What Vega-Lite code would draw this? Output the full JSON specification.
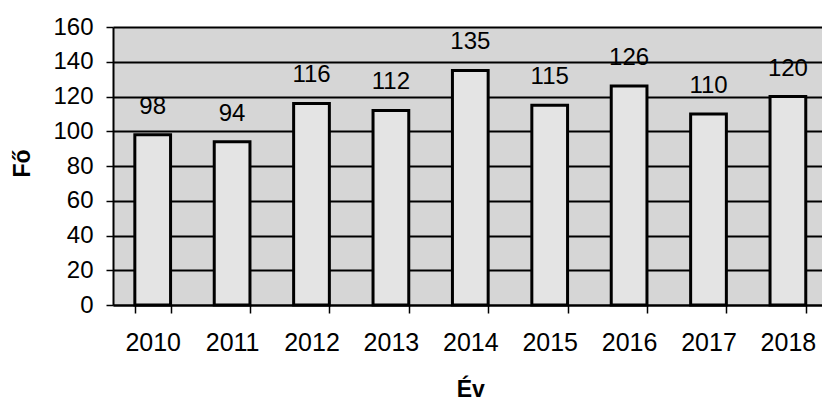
{
  "$schema": "https://vega.github.io/schema/vega-lite/v6.json",
  "autosize": "none",
  "width": 709,
  "height": 278,
  "padding": {"left": 113, "top": 27, "right": 0, "bottom": 96},
  "background": "white",
  "config": {
    "view": {"fill": "#d6d6d6", "stroke": null},
    "font": "Liberation Sans"
  },
  "data": {
    "values": [
      {"ev": "2010", "fo": 98},
      {"ev": "2011", "fo": 94},
      {"ev": "2012", "fo": 116},
      {"ev": "2013", "fo": 112},
      {"ev": "2014", "fo": 135},
      {"ev": "2015", "fo": 115},
      {"ev": "2016", "fo": 126},
      {"ev": "2017", "fo": 110},
      {"ev": "2018", "fo": 120}
    ]
  },
  "encoding": {
    "x": {
      "field": "ev",
      "type": "nominal",
      "title": "Év",
      "scale": {"paddingInner": 0.55, "paddingOuter": 0.275, "range": [0, 714.6]},
      "axis": {
        "labelAngle": 0,
        "labelFontSize": 25,
        "labelColor": "black",
        "labelBaseline": "middle",
        "labelPadding": 29,
        "tickBand": "extent",
        "tickSize": 8,
        "tickColor": "black",
        "tickWidth": 1.5,
        "domainColor": "black",
        "domainWidth": 2,
        "titleFontSize": 23,
        "titleFontWeight": "bold",
        "titleColor": "black",
        "titleBaseline": "middle",
        "titleY": 84
      }
    },
    "y": {
      "field": "fo",
      "type": "quantitative",
      "title": "Fő",
      "scale": {"domain": [0, 160], "nice": false},
      "axis": {
        "values": [0, 20, 40, 60, 80, 100, 120, 140, 160],
        "labelFontSize": 24,
        "labelColor": "black",
        "labelPadding": 13,
        "tickSize": 7,
        "tickColor": "black",
        "tickWidth": 1.5,
        "domainColor": "black",
        "domainWidth": 2,
        "grid": true,
        "gridColor": "black",
        "gridWidth": 2,
        "gridOpacity": 1,
        "titleFontSize": 23,
        "titleFontWeight": "bold",
        "titleColor": "black",
        "titleX": -91,
        "titleY": 136,
        "titleBaseline": "middle",
        "titleAlign": "center"
      }
    }
  },
  "layer": [
    {
      "mark": {"type": "bar", "fill": "#e4e4e4", "stroke": "black", "strokeWidth": 3}
    },
    {
      "mark": {"type": "text", "fontSize": 24, "color": "black", "baseline": "middle", "dy": -28},
      "encoding": {"text": {"field": "fo", "type": "quantitative"}}
    }
  ]
}
